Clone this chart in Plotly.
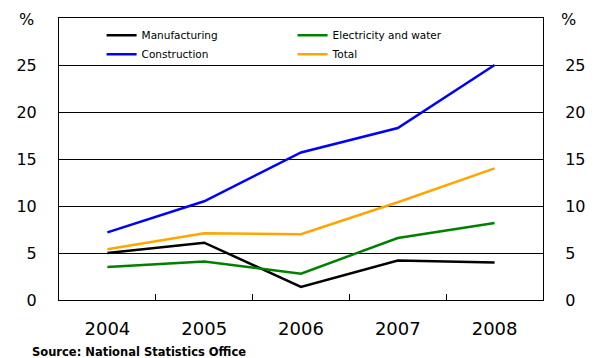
import plotly.graph_objects as go

years = ["2004", "2005", "2006", "2007", "2008"]
manufacturing = [5.0, 6.1, 1.4, 4.2, 4.0]
electricity_water = [3.5, 4.1, 2.8, 6.6, 8.2]
construction = [7.2, 10.5, 15.7, 18.3, 25.0]
total = [5.4, 7.1, 7.0, 10.4, 14.0]

y_ticks = [0, 5, 10, 15, 20, 25]

FONT = "DejaVu Sans"

series = [
    ("Manufacturing", manufacturing, "#000000"),
    ("Electricity and water", electricity_water, "#008000"),
    ("Construction", construction, "#0000FF"),
    ("Total", total, "#FFA500"),
]

fig = go.Figure()
for name, vals, color in series:
    fig.add_trace(go.Scatter(
        x=years, y=vals, name=name, mode="lines",
        line=dict(color=color, width=2.5),
    ))

# invisible trace to activate the right-hand axis
fig.add_trace(go.Scatter(x=years, y=total, yaxis="y2", showlegend=False,
                         mode="lines", line=dict(width=0), hoverinfo="skip"))

axis_common = dict(
    range=[0, 30], tickvals=y_ticks, showline=True, linecolor="black",
    linewidth=1, ticks="", tickfont=dict(family=FONT, size=16, color="black"),
    zeroline=False,
)

fig.update_layout(
    width=603, height=358,
    margin=dict(l=59, r=60, t=18, b=58),
    paper_bgcolor="white", plot_bgcolor="white",
    font=dict(family=FONT, color="black"),
    xaxis=dict(
        type="category", range=[-0.5, 4.5],
        showline=True, linecolor="black", linewidth=1,
        mirror=True, ticks="inside", tickson="boundaries", ticklen=6,
        tickcolor="black", showgrid=False,
        tickfont=dict(family=FONT, size=18, color="black"),
        ticklabelstandoff=12,
    ),
    yaxis=dict(**axis_common, showgrid=True, gridcolor="black", gridwidth=1,
               side="left", ticklabelstandoff=18),
    yaxis2=dict(**axis_common, showgrid=False, overlaying="y", side="right",
                ticklabelstandoff=18),
    legend=dict(
        orientation="h", x=0.088, y=0.99, xanchor="left", yanchor="top",
        entrywidth=146, entrywidthmode="pixels", tracegroupgap=0,
        font=dict(family=FONT, size=10.5, color="black"),
        bgcolor="rgba(0,0,0,0)", itemwidth=30,
    ),
    showlegend=True,
    annotations=[
        dict(text="%", xref="paper", yref="paper", x=-0.068, y=0.993,
             xanchor="center", yanchor="middle", showarrow=False,
             font=dict(family=FONT, size=16)),
        dict(text="%", xref="paper", yref="paper", x=1.052, y=0.993,
             xanchor="center", yanchor="middle", showarrow=False,
             font=dict(family=FONT, size=16)),
        dict(text="<b>Source: National Statistics Office</b>", xref="paper",
             yref="paper", x=-0.06, y=-0.186, xanchor="left", yanchor="middle",
             showarrow=False, font=dict(family=FONT, size=11.5)),
    ],
)

fig.write_html("out.html")
